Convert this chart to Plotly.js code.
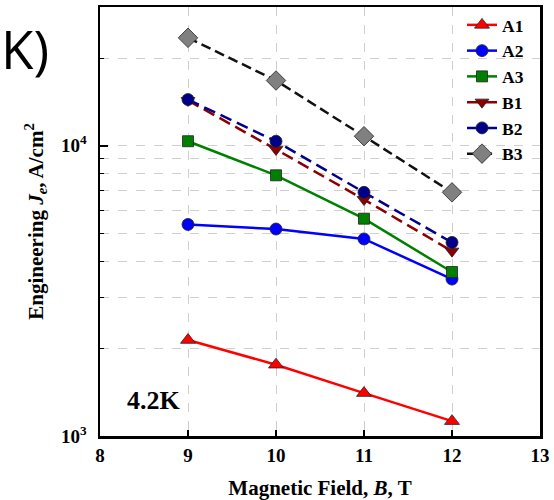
<!DOCTYPE html>
<html>
<head>
<meta charset="utf-8">
<script src="https://cdn.plot.ly/plotly-3.0.1.min.js"></script>
<style>html,body{margin:0;padding:0;background:#fff;}#chart{width:554px;height:500px;}</style>
</head>
<body>
<div id="chart"></div>
<script>
const field = [9, 10, 11, 12];
const A1 = [2140, 1760, 1405, 1125];
const A2 = [5350, 5160, 4770, 3470];
const A3 = [10350, 7900, 5600, 3670];
const B1 = [14300, 9700, 6520, 4330];
const B2 = [14400, 10350, 6900, 4640];
const B3 = [23500, 16750, 10770, 6900];
const seriesNames = ['A1', 'A2', 'A3', 'B1', 'B2', 'B3'];
const xTickVals = [8, 9, 10, 11, 12, 13];
const yMajorVals = [1000, 10000];
const yMajorText = ['10<sup>3</sup>', '10<sup>4</sup>'];
const yMinorVals = [2000, 3000, 4000, 5000, 6000, 7000, 8000, 9000, 20000, 30000];

const serif = 'Liberation Serif, Times New Roman, serif';
const styles = [
  {color: '#ff0000', dash: 'solid', symbol: 'triangle-up', mcolor: '#ff0000', size: 13},
  {color: '#0000ff', dash: 'solid', symbol: 'circle', mcolor: '#0000ff', size: 12},
  {color: '#008000', dash: 'solid', symbol: 'square', mcolor: '#008000', size: 11},
  {color: '#8b0000', dash: '12px,6px', symbol: 'triangle-down', mcolor: '#8b0000', size: 12},
  {color: '#00008b', dash: '12px,6px', symbol: 'circle', mcolor: '#00008b', size: 12},
  {color: '#111111', dash: '10px,5px', symbol: 'diamond', mcolor: '#808080', size: 15}
];
const values = [A1, A2, A3, B1, B2, B3];
const traces = values.map((v, i) => ({
  x: field, y: v, name: seriesNames[i], type: 'scatter', mode: 'lines+markers',
  line: {color: styles[i].color, width: 2.5, dash: styles[i].dash},
  marker: {symbol: styles[i].symbol, size: styles[i].size, color: styles[i].mcolor,
           line: {color: '#222', width: 0.8}}
}));

const layout = {
  width: 554, height: 500,
  margin: {l: 100, r: 14, t: 7, b: 64},
  paper_bgcolor: '#fff', plot_bgcolor: '#fff',
  showlegend: true,
  legend: {x: 0.975, y: 1.0, xanchor: 'right', yanchor: 'top', bgcolor: 'rgba(0,0,0,0)',
           font: {family: serif, size: 17.5, color: '#000', weight: 'bold'}, tracegroupgap: 0},
  xaxis: {
    range: [8, 13], tickvals: xTickVals, ticks: 'inside', ticklen: 6, tickwidth: 2, tickcolor: '#000',
    showline: true, linecolor: '#000', linewidth: 2.5, mirror: true,
    showgrid: true, gridcolor: '#cfcfcf', griddash: 'dash', gridwidth: 1, zeroline: false,
    ticklabelstandoff: 1,
    tickfont: {family: serif, size: 19, color: '#000', weight: 'bold'},
    title: {text: 'Magnetic Field, <i>B</i>, T', font: {family: serif, size: 21, color: '#000', weight: 'bold'}, standoff: 16}
  },
  yaxis: {
    type: 'log', range: [3, Math.log10(30000)], tickmode: 'array', tickvals: yMajorVals, ticktext: yMajorText,
    ticks: 'inside', ticklen: 8, tickwidth: 2, tickcolor: '#000',
    showline: true, linecolor: '#000', linewidth: 2.5, mirror: true,
    showgrid: true, gridcolor: '#cfcfcf', griddash: 'dash', gridwidth: 1, zeroline: false,
    ticklabelstandoff: 7,
    tickfont: {family: serif, size: 19, color: '#000', weight: 'bold'},
    minor: {tickmode: 'array', tickvals: yMinorVals, ticks: 'inside', ticklen: 4, tickwidth: 1, tickcolor: '#000',
            showgrid: true, gridcolor: '#cfcfcf', griddash: 'dash', gridwidth: 1},
    title: {text: 'Engineering <i>J<sub>e</sub></i>, A/cm<sup>2</sup>', font: {family: serif, size: 21, color: '#000', weight: 'bold'}, standoff: 12}
  },
  annotations: [
    {xref: 'paper', yref: 'paper', x: 0.1216, y: 0.082, xanchor: 'center', yanchor: 'middle', text: '4.2K', showarrow: false,
     font: {family: serif, size: 26, color: '#000', weight: 'bold'}},
    {xref: 'paper', yref: 'paper', x: -0.229, y: 0.904, xanchor: 'left', yanchor: 'middle', text: 'K)', showarrow: false,
     font: {family: 'Open Sans, Noto Sans, sans-serif', size: 53, color: '#000'}}
  ]
};
Plotly.newPlot('chart', traces, layout, {displayModeBar: false, staticPlot: true});
</script>
</body>
</html>
